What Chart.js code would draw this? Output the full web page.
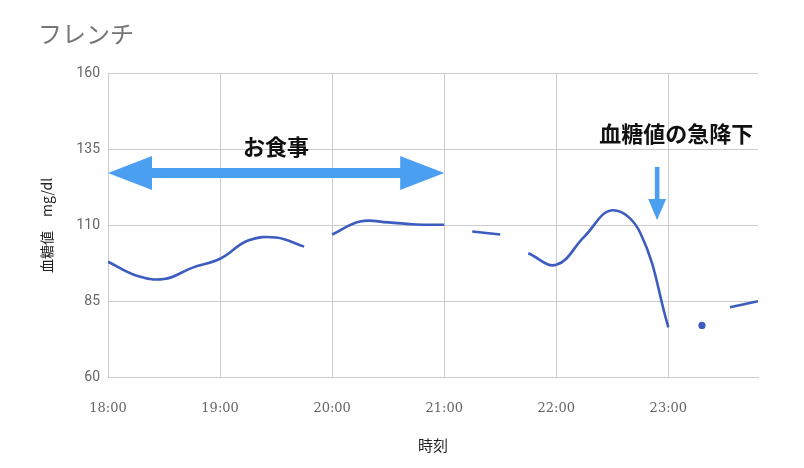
<!DOCTYPE html>
<html>
<head>
<meta charset="utf-8">
<script src="https://cdn.jsdelivr.net/npm/chart.js"></script>
<style>
  body { margin: 0; background: #fff; }
  #wrap { width: 804px; height: 468px; }
</style>
</head>
<body>
<div id="wrap"><canvas id="glucose"></canvas></div>
<script>
// minutes after 18:00, null = no reading (gap in the line)
const minutes = [0, 15, 30, 45, 60, 75, 90, 105, 112, 120, 135, 150, 165, 180, 187, 195, 210, 217, 225, 240, 255, 270, 285, 300, 309, 318, 325, 333, 348];
const glucose = [98, 93.5, 92.3, 96, 99, 105, 106, 103, null, 107, 111.3, 111, 110.3, 110.2, null, 108, 107, null, 100.8, 97, 106.3, 115, 107.5, 76.4, null, 77, null, 83, 85];
const yTicks = [60, 85, 110, 135, 160];
const hourTicks = [0, 60, 120, 180, 240, 300];
const startHour = 18;

const fmtTime = v => (startHour + Math.floor(v / 60)) + ':' + String(v % 60).padStart(2, '0');

// is this reading alone between two gaps? then draw it as a dot
const isolated = i => glucose[i] != null && glucose[i - 1] == null && glucose[i + 1] == null && i > 0 && i < glucose.length - 1;

const notes = {
  id: 'notes',
  afterDatasetsDraw(chart) {
    const { ctx, scales: { x, y } } = chart;
    ctx.save();
    ctx.fillStyle = '#4a9ff0';

    // meal: double arrow 18:00 - 21:00
    const x0 = x.getPixelForValue(0), x1 = x.getPixelForValue(180), ym = y.getPixelForValue(127.3);
    const head = 44, hh = 17, sh = 5;
    ctx.beginPath();
    ctx.moveTo(x0, ym);
    ctx.lineTo(x0 + head, ym - hh);
    ctx.lineTo(x0 + head, ym - sh);
    ctx.lineTo(x1 - head, ym - sh);
    ctx.lineTo(x1 - head, ym - hh);
    ctx.lineTo(x1, ym);
    ctx.lineTo(x1 - head, ym + hh);
    ctx.lineTo(x1 - head, ym + sh);
    ctx.lineTo(x0 + head, ym + sh);
    ctx.lineTo(x0 + head, ym + hh);
    ctx.closePath();
    ctx.fill();

    // drop: down arrow near 22:54
    const ax = x.getPixelForValue(294), ay0 = y.getPixelForValue(129.3), ay1 = y.getPixelForValue(111.8);
    ctx.fillRect(ax - 2.3, ay0, 4.6, ay1 - ay0 - 20);
    ctx.beginPath();
    ctx.moveTo(ax - 9, ay1 - 21);
    ctx.lineTo(ax + 9, ay1 - 21);
    ctx.lineTo(ax, ay1);
    ctx.closePath();
    ctx.fill();

    ctx.fillStyle = '#111';
    ctx.font = 'bold 22px "Noto Sans CJK JP"';
    ctx.textBaseline = 'middle';
    ctx.textAlign = 'center';
    ctx.fillText('お食事', x.getPixelForValue(90), y.getPixelForValue(136));
    ctx.textAlign = 'right';
    ctx.fillText('血糖値の急降下', x.getPixelForValue(345.5), y.getPixelForValue(140.2));
    ctx.restore();
  }
};

new Chart(document.getElementById('glucose'), {
  type: 'line',
  data: {
    datasets: [{
      data: minutes.map((m, i) => ({ x: m, y: glucose[i] })),
      borderColor: '#3d5cbf',
      backgroundColor: '#3d5cbf',
      borderWidth: 2.6,
      tension: 0.4,
      spanGaps: false,
      pointRadius: c => isolated(c.dataIndex) ? 2.3 : 0,
      pointHoverRadius: 0
    }]
  },
  options: {
    responsive: true,
    maintainAspectRatio: false,
    animation: false,
    events: [],
    layout: { padding: { left: 38, right: 46, top: 0, bottom: 0 } },
    plugins: {
      legend: { display: false },
      tooltip: { enabled: false },
      title: {
        display: true,
        text: 'フレンチ',
        align: 'start',
        color: '#757575',
        font: { family: '"Noto Sans CJK JP"', size: 24, weight: 'normal' },
        padding: { top: 19, bottom: 26 }
      }
    },
    scales: {
      x: {
        type: 'linear',
        min: 0,
        max: 348,
        afterBuildTicks: s => { s.ticks = hourTicks.map(v => ({ value: v })); },
        afterFit: s => { s.height = 91; },
        ticks: {
          callback: v => fmtTime(v),
          color: '#666',
          padding: 24,
          maxRotation: 0,
          font: { family: '"DejaVu Serif"', size: 13 }
        },
        grid: { color: '#cccccc', drawTicks: false },
        border: { color: '#cccccc' },
        title: {
          display: true,
          text: '時刻',
          color: '#222',
          font: { family: '"Noto Sans CJK JP"', size: 15 },
          padding: { top: 0, bottom: 14 }
        }
      },
      y: {
        min: 60,
        max: 160,
        afterBuildTicks: s => { s.ticks = yTicks.map(v => ({ value: v })); },
        afterFit: s => { s.width = 70; },
        ticks: {
          color: '#666',
          padding: 8,
          font: { family: 'Roboto', size: 14 }
        },
        grid: { color: '#cccccc', drawTicks: false },
        border: { color: '#cccccc' },
        title: {
          display: true,
          text: '血糖値　mg/dl',
          color: '#222',
          font: { family: '"Noto Sans CJK JP"', size: 14 },
          padding: { top: 0, bottom: 0 }
        }
      }
    }
  },
  plugins: [notes]
});
</script>
</body>
</html>
